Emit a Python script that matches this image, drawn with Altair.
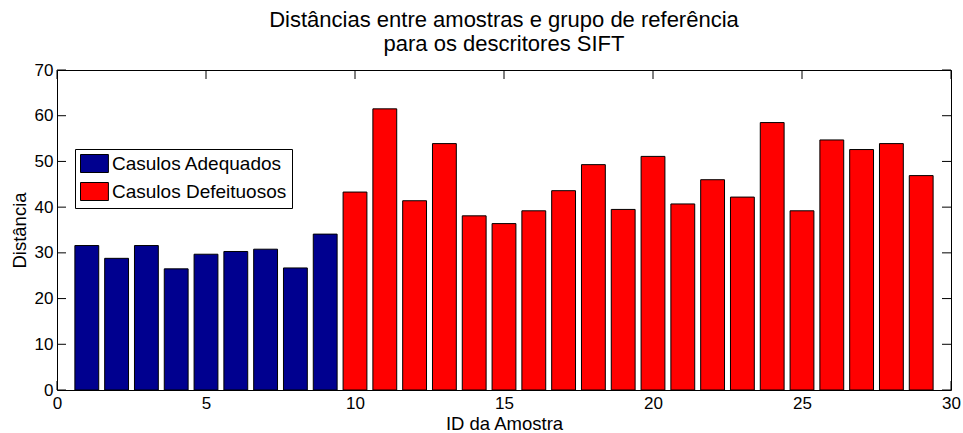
import altair as alt
import pandas as pd

# Sample IDs, distances to the reference group, and sample class
sample_id = list(range(1, 30))
distance = [31.6, 28.8, 31.6, 26.5, 29.7, 30.3, 30.8, 26.7, 34.1,
            43.3, 61.5, 41.4, 53.9, 38.1, 36.4, 39.2, 43.6, 49.3, 39.5,
            51.1, 40.7, 46.0, 42.2, 58.5, 39.2, 54.7, 52.6, 53.9, 46.9]
group = (["Casulos Adequados"] * 9) + (["Casulos Defeituosos"] * 20)

group_names = ["Casulos Adequados", "Casulos Defeituosos"]
group_colors = ["#00008F", "#FF0000"]

x_ticks = [0, 5, 10, 15, 20, 25, 30]
y_ticks = [0, 10, 20, 30, 40, 50, 60, 70]

W, H = 894, 320
TICK = 9
FONT = "Liberation Sans"

df = pd.DataFrame({"id": sample_id, "dist": distance, "grupo": group})
xt = pd.DataFrame({"v": x_ticks})
yt = pd.DataFrame({"v": y_ticks})

x_scale = alt.Scale(domain=[0, 30], nice=False, zero=False)
y_scale = alt.Scale(domain=[0, 70], nice=False, zero=True)

x_axis = alt.Axis(values=x_ticks, ticks=False, domain=False, grid=False,
                  labelFlush=False, labelOverlap=False, labelPadding=5,
                  labelFontSize=17, titleFontSize=18.5, titlePadding=3,
                  title="ID da Amostra")
y_axis = alt.Axis(values=y_ticks, ticks=False, domain=False, grid=False,
                  labelFlush=False, labelOverlap=False, labelPadding=4,
                  labelFontSize=17, titleFontSize=18.5, titlePadding=5,
                  title="Distância")

# inward tick marks on all four sides
tick_bottom = alt.Chart(xt).mark_rule(color="black", strokeWidth=1).encode(
    x=alt.X("v:Q", scale=x_scale, axis=x_axis),
    y=alt.value(H), y2=alt.value(H - TICK))
tick_top = alt.Chart(xt).mark_rule(color="black", strokeWidth=1).encode(
    x=alt.X("v:Q", scale=x_scale), y=alt.value(0), y2=alt.value(TICK))
tick_left = alt.Chart(yt).mark_rule(color="black", strokeWidth=1).encode(
    y=alt.Y("v:Q", scale=y_scale, axis=y_axis),
    x=alt.value(0), x2=alt.value(TICK))
tick_right = alt.Chart(yt).mark_rule(color="black", strokeWidth=1).encode(
    y=alt.Y("v:Q", scale=y_scale), x=alt.value(W), x2=alt.value(W - TICK))

bars = alt.Chart(df).transform_calculate(
    x0="datum.id - 0.4", x1="datum.id + 0.4", base="0"
).mark_bar(stroke="black", strokeWidth=1, opacity=1).encode(
    x=alt.X("x0:Q", scale=x_scale, axis=x_axis),
    x2="x1:Q",
    y=alt.Y("dist:Q", scale=y_scale, axis=y_axis),
    y2="base:Q",
    color=alt.Color(
        "grupo:N",
        scale=alt.Scale(domain=group_names, range=group_colors),
        legend=alt.Legend(
            title=None, orient="none", legendX=18, legendY=79,
            fillColor="white", strokeColor="black", padding=5,
            cornerRadius=0,
            symbolType="M-1,-1H2.1V1H-1Z", symbolSize=324,
            symbolStrokeColor="black", symbolStrokeWidth=1,
            symbolOpacity=1,
            labelFontSize=19, labelFont=FONT, labelColor="black",
            labelOffset=13, rowPadding=5, labelLimit=400,
        ),
    ),
)

chart = alt.layer(tick_bottom, tick_top, tick_left, tick_right, bars).properties(
    width=W, height=H,
    title=alt.TitleParams(
        text=["Distâncias entre amostras e grupo de referência",
              "para os descritores SIFT"],
        fontSize=22, font=FONT, fontWeight="normal", color="black",
        anchor="middle", lineHeight=24.5, offset=5,
    ),
    padding={"left": 57, "top": 70, "right": 12, "bottom": 43},
    autosize="none",
).configure(
    font=FONT, background="white"
).configure_view(
    stroke="black", strokeWidth=1
).configure_axis(
    labelColor="black", titleColor="black", labelFont=FONT, titleFont=FONT,
    titleFontWeight="normal"
)

chart.save("out.html", embed_options={"renderer": "svg", "actions": False})
